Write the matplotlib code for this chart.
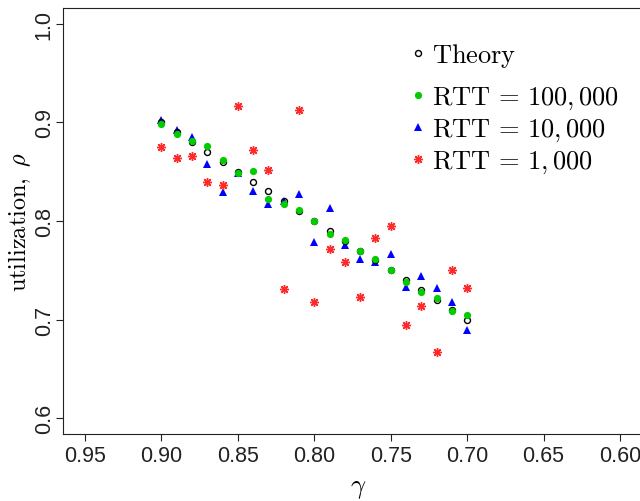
import matplotlib
matplotlib.use("Agg")
import matplotlib.pyplot as plt

gamma = [0.90, 0.89, 0.88, 0.87, 0.86, 0.85, 0.84, 0.83, 0.82, 0.81, 0.80,
         0.79, 0.78, 0.77, 0.76, 0.75, 0.74, 0.73, 0.72, 0.71, 0.70]

theory = [0.900, 0.890, 0.880, 0.870, 0.860, 0.850, 0.840, 0.830, 0.820, 0.810, 0.800,
          0.790, 0.780, 0.770, 0.760, 0.750, 0.740, 0.730, 0.720, 0.710, 0.700]
rtt_100k = [0.898, 0.888, 0.881, 0.876, 0.862, 0.849, 0.851, 0.822, 0.817, 0.811, 0.800,
            0.787, 0.781, 0.770, 0.761, 0.750, 0.738, 0.728, 0.722, 0.709, 0.705]
rtt_10k = [0.903, 0.892, 0.885, 0.858, 0.829, 0.849, 0.830, 0.817, 0.820, 0.827, 0.779,
           0.813, 0.776, 0.761, 0.758, 0.766, 0.733, 0.744, 0.732, 0.718, 0.689]
rtt_1k = [0.875, 0.864, 0.866, 0.840, 0.837, 0.917, 0.872, 0.852, 0.731, 0.913, 0.718,
          0.772, 0.758, 0.723, 0.783, 0.795, 0.694, 0.714, 0.667, 0.750, 0.732]

x_ticks = [0.95, 0.90, 0.85, 0.80, 0.75, 0.70, 0.65, 0.60]
y_ticks = [0.6, 0.7, 0.8, 0.9, 1.0]

plt.rcParams["mathtext.fontset"] = "cm"
tick_font = ["Liberation Sans Narrow", "Liberation Sans", "DejaVu Sans"]

fig = plt.figure(figsize=(6.4, 5.02), dpi=100)
ax = fig.add_axes([63 / 640, 1 - 435 / 502, 590 / 640, 426 / 502])

h_th, = ax.plot(gamma, theory, "o", mfc="none", mec="black", ms=4.3, mew=1.0,
                label=r"$\mathrm{Theory}$", zorder=3)
h_100k, = ax.plot(gamma, rtt_100k, "o", color="#00cc00", ms=5.2, mew=0,
                  label=r"$\mathrm{RTT}\,=\,100,000$", zorder=4)
h_10k, = ax.plot(gamma, rtt_10k, "^", color="#0000ff", ms=5.6, mew=0,
                 label=r"$\mathrm{RTT}\,=\,10,000$", zorder=2)
h_1k, = ax.plot(gamma, rtt_1k, marker=(8, 2, 0), ls="none", color="#ff2a2a", ms=6.5, mew=1.0,
                label=r"$\mathrm{RTT}\,=\,1,000$", zorder=2)

ax.set_xlim(0.9644, 0.5784)
ax.set_ylim(0.5838, 1.0162)
ax.set_xticks(x_ticks)
ax.set_xticklabels([f"{t:.2f}" for t in x_ticks], family=tick_font, fontsize=15.5)
ax.set_yticks(y_ticks)
ax.set_yticklabels([f"{t:.1f}" for t in y_ticks], family=tick_font, fontsize=15.5,
                   rotation=90, va="center")
ax.tick_params(direction="out", length=5, width=0.8, colors="#222222", pad=3)
ax.tick_params(axis="y", pad=1)
for s in ax.spines.values():
    s.set_color("#222222")

ax.set_xlabel(r"$\gamma$", fontsize=19, labelpad=6)
ax.set_ylabel(r"$\mathrm{utilization,}\ \rho$", fontsize=17.5, va="center")
ax.yaxis.set_label_coords(-43 / 590, 0.5)

# Theory entry sits a bit apart from the three RTT entries
leg_opts = dict(bbox_transform=fig.transFigure, frameon=False, fontsize=19,
                handlelength=0.6, handletextpad=0.25, labelspacing=0.18,
                borderpad=0, borderaxespad=0, loc="upper left")
leg1 = ax.legend(handles=[h_th], bbox_to_anchor=(410 / 640, 1 - 42 / 502), **leg_opts)
ax.add_artist(leg1)
ax.legend(handles=[h_100k, h_10k, h_1k], bbox_to_anchor=(410 / 640, 1 - 85 / 502), **leg_opts)

fig.savefig("out.png", dpi=100)
